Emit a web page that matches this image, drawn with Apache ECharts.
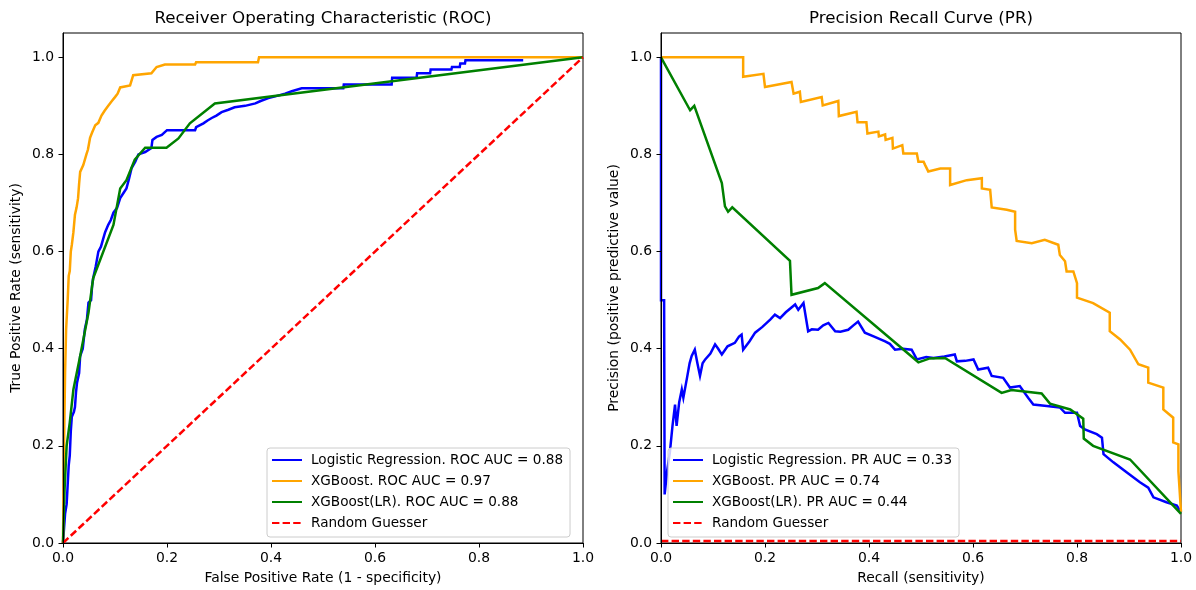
<!DOCTYPE html>
<html>
<head>
<meta charset="utf-8">
<script src="https://cdn.jsdelivr.net/npm/echarts@6/dist/echarts.min.js"></script>
<style>
  html, body { margin: 0; padding: 0; background: #fff; }
  #chart { width: 1196px; height: 590px; }
</style>
</head>
<body>
<div id="chart"></div>
<script>
const FONT = "DejaVu Sans";

const axisTicks = [0, 0.2, 0.4, 0.6, 0.8, 1.0];

// ROC curves [fpr, tpr]
const rocLogReg = [
  [0, 0], [0.002, 0.03], [0.004, 0.06], [0.007, 0.08], [0.009, 0.12], [0.011, 0.16],
  [0.013, 0.18], [0.015, 0.23], [0.017, 0.26], [0.021, 0.27], [0.023, 0.28], [0.025, 0.31],
  [0.027, 0.33], [0.031, 0.35], [0.033, 0.385], [0.038, 0.4], [0.042, 0.44], [0.046, 0.46],
  [0.049, 0.495], [0.054, 0.5], [0.056, 0.53], [0.058, 0.545], [0.063, 0.57], [0.068, 0.6],
  [0.073, 0.61], [0.077, 0.625], [0.081, 0.64], [0.087, 0.655], [0.092, 0.665], [0.097, 0.68],
  [0.104, 0.69], [0.11, 0.71], [0.116, 0.72], [0.122, 0.73], [0.127, 0.75], [0.132, 0.772],
  [0.139, 0.785], [0.145, 0.8], [0.158, 0.805], [0.17, 0.813], [0.172, 0.83], [0.18, 0.836],
  [0.19, 0.84], [0.2, 0.85], [0.254, 0.85], [0.256, 0.856], [0.27, 0.864], [0.278, 0.87],
  [0.286, 0.875], [0.295, 0.88], [0.305, 0.887], [0.318, 0.892], [0.33, 0.897], [0.35, 0.9],
  [0.37, 0.905], [0.38, 0.91], [0.395, 0.916], [0.41, 0.92], [0.427, 0.925], [0.44, 0.93],
  [0.459, 0.936], [0.539, 0.936], [0.54, 0.944], [0.632, 0.944], [0.633, 0.958], [0.68, 0.958],
  [0.681, 0.967], [0.706, 0.967], [0.707, 0.975], [0.747, 0.975], [0.748, 0.98], [0.763, 0.98],
  [0.764, 0.987], [0.773, 0.987], [0.774, 0.994], [0.885, 0.994]
];

const rocXgb = [
  [0, 0], [0.002, 0.2], [0.004, 0.35], [0.006, 0.44], [0.009, 0.5], [0.011, 0.55],
  [0.013, 0.56], [0.015, 0.6], [0.017, 0.614], [0.02, 0.64], [0.023, 0.676], [0.026, 0.69],
  [0.029, 0.71], [0.031, 0.74], [0.033, 0.764], [0.039, 0.778], [0.045, 0.8], [0.048, 0.81],
  [0.052, 0.834], [0.056, 0.845], [0.062, 0.86], [0.068, 0.865], [0.074, 0.88], [0.08, 0.89],
  [0.087, 0.9], [0.094, 0.91], [0.1, 0.918], [0.105, 0.925], [0.11, 0.938], [0.129, 0.942],
  [0.135, 0.963], [0.17, 0.967], [0.18, 0.98], [0.196, 0.985], [0.254, 0.985], [0.256, 0.99],
  [0.375, 0.99], [0.377, 1.0], [1, 1]
];

const rocXgbLr = [
  [0, 0], [0.003, 0.11], [0.007, 0.2], [0.013, 0.248], [0.02, 0.316], [0.033, 0.385],
  [0.049, 0.474], [0.058, 0.545], [0.097, 0.655], [0.11, 0.73], [0.122, 0.747], [0.138, 0.789],
  [0.158, 0.814], [0.199, 0.814], [0.222, 0.833], [0.244, 0.864], [0.292, 0.905], [1, 1]
];

const rocRandom = [[0, 0], [1, 1]];

// PR curves [recall, precision]
const prLogReg = [
  [0, 1.0], [0, 0.5], [0.006, 0.5], [0.007, 0.1], [0.008, 0.097], [0.012, 0.15],
  [0.017, 0.186], [0.022, 0.24], [0.027, 0.285], [0.03, 0.241], [0.035, 0.29], [0.04, 0.316],
  [0.043, 0.299], [0.05, 0.34], [0.055, 0.37], [0.059, 0.385], [0.065, 0.398], [0.07, 0.37],
  [0.075, 0.344], [0.08, 0.37], [0.085, 0.378], [0.095, 0.39], [0.104, 0.409], [0.11, 0.4],
  [0.117, 0.388], [0.128, 0.405], [0.142, 0.412], [0.15, 0.425], [0.155, 0.429], [0.158, 0.398],
  [0.17, 0.415], [0.181, 0.433], [0.195, 0.445], [0.21, 0.46], [0.219, 0.47], [0.229, 0.463],
  [0.24, 0.475], [0.258, 0.491], [0.264, 0.48], [0.274, 0.494], [0.283, 0.436], [0.29, 0.44],
  [0.302, 0.439], [0.312, 0.448], [0.322, 0.453], [0.335, 0.436], [0.345, 0.435], [0.36, 0.439],
  [0.37, 0.448], [0.379, 0.456], [0.392, 0.433], [0.41, 0.425], [0.431, 0.415], [0.44, 0.41],
  [0.45, 0.398], [0.465, 0.4], [0.482, 0.398], [0.485, 0.398], [0.492, 0.378], [0.51, 0.383],
  [0.524, 0.381], [0.545, 0.384], [0.565, 0.388], [0.569, 0.374], [0.585, 0.375], [0.601, 0.378],
  [0.61, 0.357], [0.629, 0.361], [0.636, 0.344], [0.658, 0.34], [0.671, 0.32], [0.69, 0.323],
  [0.706, 0.299], [0.716, 0.285], [0.742, 0.282], [0.767, 0.279], [0.777, 0.268], [0.8, 0.268],
  [0.806, 0.241], [0.815, 0.234], [0.838, 0.224], [0.848, 0.217], [0.851, 0.183], [0.87, 0.166],
  [0.896, 0.145], [0.921, 0.125], [0.937, 0.114], [0.947, 0.094], [0.972, 0.084], [0.992, 0.077],
  [1.0, 0.063]
];

const prXgb = [
  [0, 1.0], [0.158, 1.0], [0.158, 0.96], [0.197, 0.966], [0.2, 0.939], [0.251, 0.949],
  [0.255, 0.925], [0.267, 0.929], [0.269, 0.908], [0.309, 0.918], [0.311, 0.901], [0.341, 0.91],
  [0.342, 0.879], [0.376, 0.888], [0.378, 0.866], [0.395, 0.866], [0.397, 0.843], [0.418, 0.847],
  [0.419, 0.837], [0.431, 0.841], [0.432, 0.83], [0.445, 0.834], [0.446, 0.812], [0.464, 0.819],
  [0.466, 0.802], [0.492, 0.802], [0.495, 0.785], [0.505, 0.785], [0.508, 0.778], [0.514, 0.765],
  [0.537, 0.771], [0.556, 0.771], [0.556, 0.737], [0.588, 0.747], [0.617, 0.751], [0.617, 0.73],
  [0.633, 0.727], [0.636, 0.691], [0.665, 0.686], [0.681, 0.682], [0.681, 0.645], [0.684, 0.622],
  [0.713, 0.617], [0.738, 0.624], [0.764, 0.614], [0.767, 0.593], [0.777, 0.58], [0.78, 0.559],
  [0.793, 0.559], [0.8, 0.535], [0.8, 0.505], [0.831, 0.494], [0.863, 0.474], [0.863, 0.436],
  [0.883, 0.419], [0.902, 0.398], [0.918, 0.368], [0.937, 0.361], [0.937, 0.33], [0.966, 0.32],
  [0.966, 0.275], [0.985, 0.258], [0.985, 0.207], [0.995, 0.203], [0.995, 0.148], [0.998, 0.145],
  [1.0, 0.064]
];

const prXgbLr = [
  [0, 1.0], [0.056, 0.891], [0.064, 0.9], [0.117, 0.741], [0.123, 0.693], [0.129, 0.682],
  [0.137, 0.691], [0.248, 0.581], [0.251, 0.511], [0.302, 0.525], [0.315, 0.535], [0.495, 0.372],
  [0.517, 0.38], [0.546, 0.381], [0.655, 0.309], [0.674, 0.315], [0.732, 0.308], [0.748, 0.287],
  [0.787, 0.275], [0.812, 0.256], [0.813, 0.215], [0.831, 0.2], [0.902, 0.172], [1.0, 0.06]
];

const prRandom = [[0, 0.004], [1, 0.004]];

const rocNames = [
  "Logistic Regression. ROC AUC = 0.88",
  "XGBoost. ROC AUC = 0.97",
  "XGBoost(LR). ROC AUC = 0.88",
  "Random Guesser"
];
const prNames = [
  "Logistic Regression. PR AUC = 0.33",
  "XGBoost. PR AUC = 0.74",
  "XGBoost(LR). PR AUC = 0.44",
  "Random Guesser"
];
const lineColors = ["#0000ff", "#ffa500", "#008000", "#ff0000"];

// spines sit above the curves, as in matplotlib
function makeXAxis(gridIndex, name) {
  return {
    gridIndex,
    type: "value",
    z: 5,
    min: 0,
    max: 1,
    interval: 0.2,
    name,
    nameLocation: "middle",
    nameGap: 28,
    nameTextStyle: { fontFamily: FONT, fontSize: 13.9, color: "#000" },
    axisLine: { show: true, onZero: false, lineStyle: { color: "#000", width: 1 } },
    axisTick: { show: true, length: 4.5, lineStyle: { color: "#000", width: 1 } },
    axisLabel: {
      fontFamily: FONT, fontSize: 13.9, color: "#000", margin: 8,
      formatter: (v) => v.toFixed(1)
    },
    splitLine: { show: false }
  };
}

function makeYAxis(gridIndex, name) {
  return {
    gridIndex,
    type: "value",
    z: 5,
    min: 0,
    max: 1.05,
    interval: 0.2,
    name,
    nameLocation: "middle",
    nameGap: 40,
    nameTextStyle: { fontFamily: FONT, fontSize: 13.9, color: "#000" },
    axisLine: { show: true, onZero: false, lineStyle: { color: "#000", width: 1 } },
    axisTick: {
      show: true, length: 4.5, customValues: axisTicks,
      lineStyle: { color: "#000", width: 1 }
    },
    axisLabel: {
      fontFamily: FONT, fontSize: 13.9, color: "#000", margin: 9,
      customValues: axisTicks,
      formatter: (v) => (v > 1.001 ? "" : v.toFixed(1))
    },
    splitLine: { show: false }
  };
}

function makeSeries(name, data, color, idx, dashed) {
  return {
    type: "line",
    name,
    data,
    xAxisIndex: idx,
    yAxisIndex: idx,
    symbol: "none",
    showSymbol: false,
    smooth: false,
    animation: false,
    clip: true,
    lineStyle: { color, width: 2.5, type: dashed ? [7.4, 3.2] : "solid", cap: "butt", join: "miter" },
    itemStyle: { color }
  };
}

function makeLegend(names, left) {
  return {
    orient: "vertical",
    left,
    top: 448,
    data: names,
    itemWidth: 30,
    itemHeight: 14,
    itemGap: 7,
    padding: [5, 7, 7, 4],
    backgroundColor: "rgba(255,255,255,0.8)",
    borderColor: "#cccccc",
    borderWidth: 1,
    borderRadius: 3,
    selectedMode: false,
    itemStyle: { opacity: 0 },
    textStyle: {
      fontFamily: FONT, fontSize: 13.6, color: "#000",
      lineHeight: 14, padding: [0, 0, 0, 4]
    }
  };
}

const seriesList = [
  makeSeries(rocNames[0], rocLogReg, lineColors[0], 0, false),
  makeSeries(rocNames[1], rocXgb, lineColors[1], 0, false),
  makeSeries(rocNames[2], rocXgbLr, lineColors[2], 0, false),
  makeSeries(rocNames[3], rocRandom, lineColors[3], 0, true),
  makeSeries(prNames[0], prLogReg, lineColors[0], 1, false),
  makeSeries(prNames[1], prXgb, lineColors[1], 1, false),
  makeSeries(prNames[2], prXgbLr, lineColors[2], 1, false),
  makeSeries(prNames[3], prRandom, lineColors[3], 1, true)
];

const option = {
  backgroundColor: "#ffffff",
  animation: false,
  title: [
    {
      text: "Receiver Operating Characteristic (ROC)",
      left: 323, top: 10, textAlign: "center", padding: 0,
      textStyle: { fontFamily: FONT, fontSize: 16.7, fontWeight: "normal", color: "#000" }
    },
    {
      text: "Precision Recall Curve (PR)",
      left: 921, top: 10, textAlign: "center", padding: 0,
      textStyle: { fontFamily: FONT, fontSize: 16.7, fontWeight: "normal", color: "#000" }
    }
  ],
  grid: [
    { left: 63, right: 613, top: 33, bottom: 46, show: true, borderColor: "#000", borderWidth: 1, backgroundColor: "transparent" },
    { left: 661, right: 15, top: 33, bottom: 46, show: true, borderColor: "#000", borderWidth: 1, backgroundColor: "transparent" }
  ],
  xAxis: [
    makeXAxis(0, "False Positive Rate (1 - specificity)"),
    makeXAxis(1, "Recall (sensitivity)")
  ],
  yAxis: [
    makeYAxis(0, "True Positive Rate (sensitivity)"),
    makeYAxis(1, "Precision (positive predictive value)")
  ],
  legend: [makeLegend(rocNames, 267), makeLegend(prNames, 668)],
  series: seriesList
};

const chart = echarts.init(document.getElementById("chart"), null, { renderer: "canvas" });
chart.setOption(option);
</script>
</body>
</html>
